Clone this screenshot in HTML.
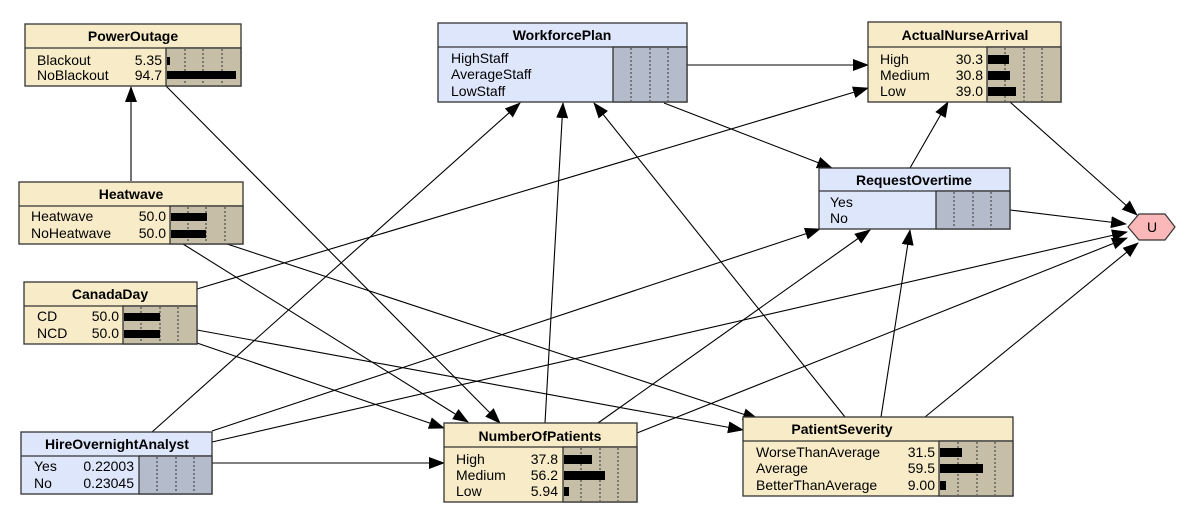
<!DOCTYPE html>
<html><head><meta charset="utf-8"><style>
body{margin:0;background:#fff;}
svg{display:block;font-family:"Liberation Sans",Arial,sans-serif;}
.t{font-weight:bold;font-size:14px;text-anchor:middle;}
.s{font-size:14px;}
.n{font-size:14px;text-anchor:end;}
</style></head><body>
<svg width="1183" height="506" viewBox="0 0 1183 506" xmlns="http://www.w3.org/2000/svg">
<defs>
<marker id="a" markerWidth="16" markerHeight="12" refX="15" refY="6" orient="auto" markerUnits="userSpaceOnUse">
<path d="M0,0 L16,6 L0,12 z" fill="#000"/></marker>
</defs>
<g stroke="#000" stroke-width="1.1" fill="none" marker-end="url(#a)">
<line x1="131" y1="181" x2="131" y2="87"/>
<line x1="166" y1="86" x2="500" y2="423"/>
<line x1="183" y1="244" x2="468" y2="422"/>
<line x1="227" y1="244" x2="758" y2="419"/>
<line x1="197" y1="289" x2="868" y2="88"/>
<line x1="197" y1="330" x2="743" y2="430"/>
<line x1="197" y1="343" x2="444" y2="428"/>
<line x1="152" y1="432" x2="520" y2="103"/>
<line x1="212" y1="431" x2="820" y2="229"/>
<line x1="212" y1="442" x2="1127" y2="232"/>
<line x1="212" y1="463" x2="444" y2="463"/>
<line x1="545" y1="423" x2="563" y2="103"/>
<line x1="598" y1="423" x2="870" y2="230"/>
<line x1="637" y1="433" x2="1127" y2="238"/>
<line x1="845" y1="417" x2="594" y2="103"/>
<line x1="881" y1="417" x2="910" y2="230"/>
<line x1="925" y1="417" x2="1138" y2="243"/>
<line x1="687" y1="65" x2="868" y2="65"/>
<line x1="664" y1="103" x2="832" y2="168"/>
<line x1="910" y1="168" x2="948" y2="102"/>
<line x1="1010" y1="102" x2="1137" y2="215"/>
<line x1="1010" y1="210" x2="1126" y2="224"/>
</g>
<polygon points="1128,227 1139,214 1165,214 1175,227 1165,240 1139,240" fill="#fbb8b8" stroke="#333" stroke-width="1.2"/>
<text x="1152" y="232" style="font-size:14px" text-anchor="middle">U</text>

<g>
<rect x="25" y="24" width="216" height="62" fill="#f8ecc8" stroke="#333" stroke-width="1.3"/>
<line x1="25" y1="48" x2="241" y2="48" stroke="#333" stroke-width="1.3"/>
<rect x="166" y="48" width="75" height="38" fill="#c7bea8" stroke="#333" stroke-width="1.3"/>
<g stroke="#333" stroke-dasharray="2,2"><line x1="185" y1="49" x2="185" y2="85"/><line x1="203" y1="49" x2="203" y2="85"/><line x1="222" y1="49" x2="222" y2="85"/></g>
<rect x="167" y="57" width="3" height="8" fill="#000"/><rect x="167" y="71" width="69" height="8" fill="#000"/>
<text class="t" x="133" y="41">PowerOutage</text>
<text class="s" x="37" y="65">Blackout</text><text class="n" x="162" y="65">5.35</text>
<text class="s" x="37" y="80">NoBlackout</text><text class="n" x="162" y="80">94.7</text>
</g>
<g>
<rect x="438" y="23" width="249" height="79" fill="#dde6fb" stroke="#333" stroke-width="1.3"/>
<line x1="438" y1="47" x2="687" y2="47" stroke="#333" stroke-width="1.3"/>
<rect x="613" y="47" width="74" height="55" fill="#b4bbcb" stroke="#333" stroke-width="1.3"/>
<g stroke="#333" stroke-dasharray="2,2"><line x1="631" y1="48" x2="631" y2="101"/><line x1="650" y1="48" x2="650" y2="101"/><line x1="668" y1="48" x2="668" y2="101"/></g>
<text class="t" x="562" y="40">WorkforcePlan</text>
<text class="s" x="451" y="63">HighStaff</text>
<text class="s" x="451" y="79">AverageStaff</text>
<text class="s" x="451" y="96">LowStaff</text>
</g>
<g>
<rect x="868" y="22" width="193" height="80" fill="#f8ecc8" stroke="#333" stroke-width="1.3"/>
<line x1="868" y1="47" x2="1061" y2="47" stroke="#333" stroke-width="1.3"/>
<rect x="987" y="47" width="74" height="55" fill="#c7bea8" stroke="#333" stroke-width="1.3"/>
<g stroke="#333" stroke-dasharray="2,2"><line x1="1005" y1="48" x2="1005" y2="101"/><line x1="1024" y1="48" x2="1024" y2="101"/><line x1="1042" y1="48" x2="1042" y2="101"/></g>
<rect x="988" y="55" width="21" height="9" fill="#000"/><rect x="988" y="71" width="22" height="9" fill="#000"/><rect x="988" y="87" width="28" height="9" fill="#000"/>
<text class="t" x="965" y="40">ActualNurseArrival</text>
<text class="s" x="880" y="64">High</text><text class="n" x="983" y="64">30.3</text>
<text class="s" x="880" y="80">Medium</text><text class="n" x="983" y="80">30.8</text>
<text class="s" x="880" y="96">Low</text><text class="n" x="983" y="96">39.0</text>
</g>
<g>
<rect x="19" y="182" width="224" height="62" fill="#f8ecc8" stroke="#333" stroke-width="1.3"/>
<line x1="19" y1="206" x2="243" y2="206" stroke="#333" stroke-width="1.3"/>
<rect x="170" y="206" width="73" height="38" fill="#c7bea8" stroke="#333" stroke-width="1.3"/>
<g stroke="#333" stroke-dasharray="2,2"><line x1="188" y1="207" x2="188" y2="243"/><line x1="206" y1="207" x2="206" y2="243"/><line x1="225" y1="207" x2="225" y2="243"/></g>
<rect x="171" y="213" width="36" height="8" fill="#000"/><rect x="171" y="230" width="35" height="8" fill="#000"/>
<text class="t" x="131" y="199">Heatwave</text>
<text class="s" x="31" y="221">Heatwave</text><text class="n" x="166" y="221">50.0</text>
<text class="s" x="31" y="238">NoHeatwave</text><text class="n" x="166" y="238">50.0</text>
</g>
<g>
<rect x="819" y="168" width="191" height="61" fill="#dde6fb" stroke="#333" stroke-width="1.3"/>
<line x1="819" y1="191" x2="1010" y2="191" stroke="#333" stroke-width="1.3"/>
<rect x="936" y="191" width="74" height="38" fill="#b4bbcb" stroke="#333" stroke-width="1.3"/>
<g stroke="#333" stroke-dasharray="2,2"><line x1="954" y1="192" x2="954" y2="228"/><line x1="973" y1="192" x2="973" y2="228"/><line x1="991" y1="192" x2="991" y2="228"/></g>
<text class="t" x="914" y="185">RequestOvertime</text>
<text class="s" x="830" y="207">Yes</text>
<text class="s" x="830" y="223">No</text>
</g>
<g>
<rect x="24" y="282" width="173" height="62" fill="#f8ecc8" stroke="#333" stroke-width="1.3"/>
<line x1="24" y1="306" x2="197" y2="306" stroke="#333" stroke-width="1.3"/>
<rect x="123" y="306" width="74" height="38" fill="#c7bea8" stroke="#333" stroke-width="1.3"/>
<g stroke="#333" stroke-dasharray="2,2"><line x1="141" y1="307" x2="141" y2="343"/><line x1="160" y1="307" x2="160" y2="343"/><line x1="178" y1="307" x2="178" y2="343"/></g>
<rect x="124" y="313" width="36" height="8" fill="#000"/><rect x="124" y="330" width="36" height="8" fill="#000"/>
<text class="t" x="110" y="299">CanadaDay</text>
<text class="s" x="37" y="321">CD</text><text class="n" x="119" y="321">50.0</text>
<text class="s" x="37" y="338">NCD</text><text class="n" x="119" y="338">50.0</text>
</g>
<g>
<rect x="21" y="432" width="191" height="62" fill="#dde6fb" stroke="#333" stroke-width="1.3"/>
<line x1="21" y1="456" x2="212" y2="456" stroke="#333" stroke-width="1.3"/>
<rect x="139" y="456" width="73" height="38" fill="#b4bbcb" stroke="#333" stroke-width="1.3"/>
<g stroke="#333" stroke-dasharray="2,2"><line x1="157" y1="457" x2="157" y2="493"/><line x1="176" y1="457" x2="176" y2="493"/><line x1="194" y1="457" x2="194" y2="493"/></g>
<text class="t" x="117" y="449">HireOvernightAnalyst</text>
<text class="s" x="34" y="471">Yes</text><text class="n" x="134" y="471">0.22003</text>
<text class="s" x="34" y="488">No</text><text class="n" x="134" y="488">0.23045</text>
</g>
<g>
<rect x="444" y="423" width="193" height="79" fill="#f8ecc8" stroke="#333" stroke-width="1.3"/>
<line x1="444" y1="447" x2="637" y2="447" stroke="#333" stroke-width="1.3"/>
<rect x="563" y="447" width="74" height="55" fill="#c7bea8" stroke="#333" stroke-width="1.3"/>
<g stroke="#333" stroke-dasharray="2,2"><line x1="581" y1="448" x2="581" y2="501"/><line x1="600" y1="448" x2="600" y2="501"/><line x1="618" y1="448" x2="618" y2="501"/></g>
<rect x="564" y="455" width="28" height="9" fill="#000"/><rect x="564" y="471" width="41" height="9" fill="#000"/><rect x="564" y="487" width="5" height="9" fill="#000"/>
<text class="t" x="540" y="441">NumberOfPatients</text>
<text class="s" x="456" y="464">High</text><text class="n" x="558" y="464">37.8</text>
<text class="s" x="456" y="480">Medium</text><text class="n" x="558" y="480">56.2</text>
<text class="s" x="456" y="496">Low</text><text class="n" x="558" y="496">5.94</text>
</g>
<g>
<rect x="743" y="417" width="270" height="79" fill="#f8ecc8" stroke="#333" stroke-width="1.3"/>
<line x1="743" y1="441" x2="1013" y2="441" stroke="#333" stroke-width="1.3"/>
<rect x="939" y="441" width="74" height="55" fill="#c7bea8" stroke="#333" stroke-width="1.3"/>
<g stroke="#333" stroke-dasharray="2,2"><line x1="958" y1="442" x2="958" y2="495"/><line x1="977" y1="442" x2="977" y2="495"/><line x1="995" y1="442" x2="995" y2="495"/></g>
<rect x="940" y="448" width="22" height="9" fill="#000"/><rect x="940" y="464" width="43" height="9" fill="#000"/><rect x="940" y="481" width="6" height="9" fill="#000"/>
<text class="t" x="842" y="434">PatientSeverity</text>
<text class="s" x="756" y="457">WorseThanAverage</text><text class="n" x="935" y="457">31.5</text>
<text class="s" x="756" y="473">Average</text><text class="n" x="935" y="473">59.5</text>
<text class="s" x="756" y="490">BetterThanAverage</text><text class="n" x="935" y="490">9.00</text>
</g>
</svg>
</body></html>
